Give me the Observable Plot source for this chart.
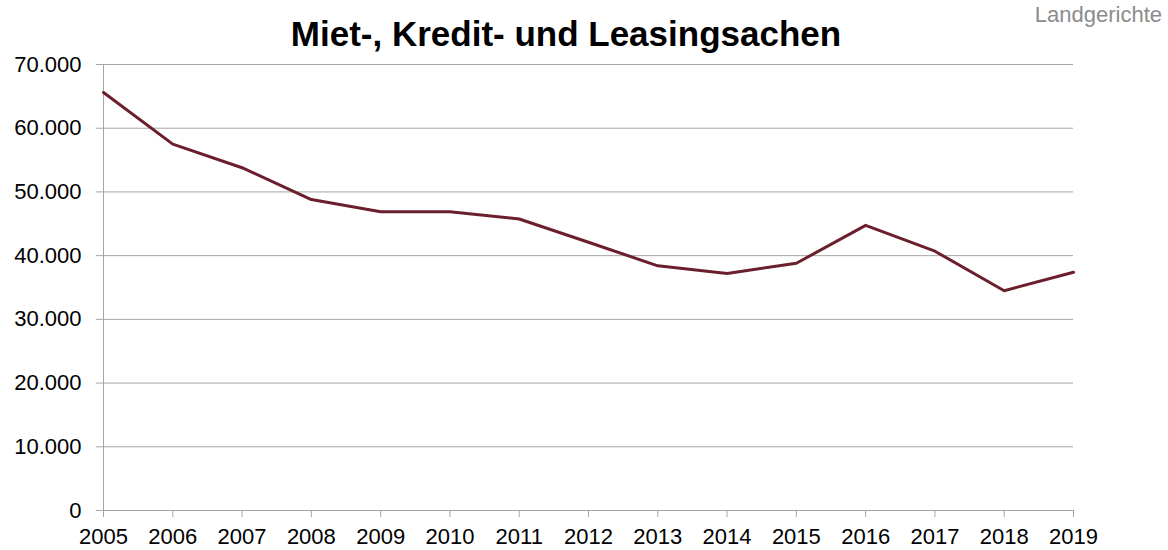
<!DOCTYPE html>
<html><head><meta charset="utf-8">
<script src="https://cdn.jsdelivr.net/npm/d3@7"></script>
<script src="https://cdn.jsdelivr.net/npm/@observablehq/plot@0.6"></script>
<style>
body{margin:0;background:#fff;font-family:"Liberation Sans",Arial,sans-serif;}
#wrap{position:relative;width:1168px;height:550px;}
#title{position:absolute;left:0;width:1132px;top:16px;line-height:35px;text-align:center;font-weight:bold;font-size:35px;color:#000;white-space:nowrap;}
#note{position:absolute;right:6px;top:4px;line-height:22px;font-size:22px;color:#8c8c8c;white-space:nowrap;}
#chart{position:absolute;left:0;top:0;}
</style></head><body>
<div id="wrap"><div id="chart"></div><div id="title">Miet-, Kredit- und Leasingsachen</div><div id="note">Landgerichte</div></div>
<script>
const years = [2005,2006,2007,2008,2009,2010,2011,2012,2013,2014,2015,2016,2017,2018,2019];
const values = [65600,57500,53800,48800,46900,46900,45750,42100,38400,37200,38800,44750,40700,34500,37400];
const yTicks = [0,10000,20000,30000,40000,50000,60000,70000];
const data = years.map((y,i)=>({year:y,value:values[i]}));
const de = d3.formatLocale({decimal:",",thousands:".",grouping:[3],currency:["","€"]});
const fmt = de.format(",");
const gray = "#a6a6a6";
const chart = Plot.plot({
  width:1168, height:550,
  marginLeft:103, marginRight:95, marginTop:64, marginBottom:40,
  style:{fontFamily:"'Liberation Sans', Arial, sans-serif", fontSize:"22px", color:"#000", background:"#fff"},
  x:{domain:[2005,2019], type:"linear"},
  y:{domain:[0,70000]},
  marks:[
    Plot.gridY(yTicks,{stroke:gray,strokeOpacity:1}),
    Plot.ruleX([2005],{stroke:gray}),
    Plot.ruleY([0],{stroke:gray}),
    Plot.axisY(yTicks,{tickSize:7,tickPadding:15,tickFormat:fmt,stroke:gray,label:null,fontSize:22}),
    Plot.axisX(years,{tickSize:7,tickPadding:11,tickFormat:d=>String(d),stroke:gray,label:null,fontSize:22}),
    Plot.line(data,{x:"year",y:"value",stroke:"#6b1f2c",strokeWidth:3})
  ]
});
document.getElementById("chart").appendChild(chart);
</script>
</body></html>
